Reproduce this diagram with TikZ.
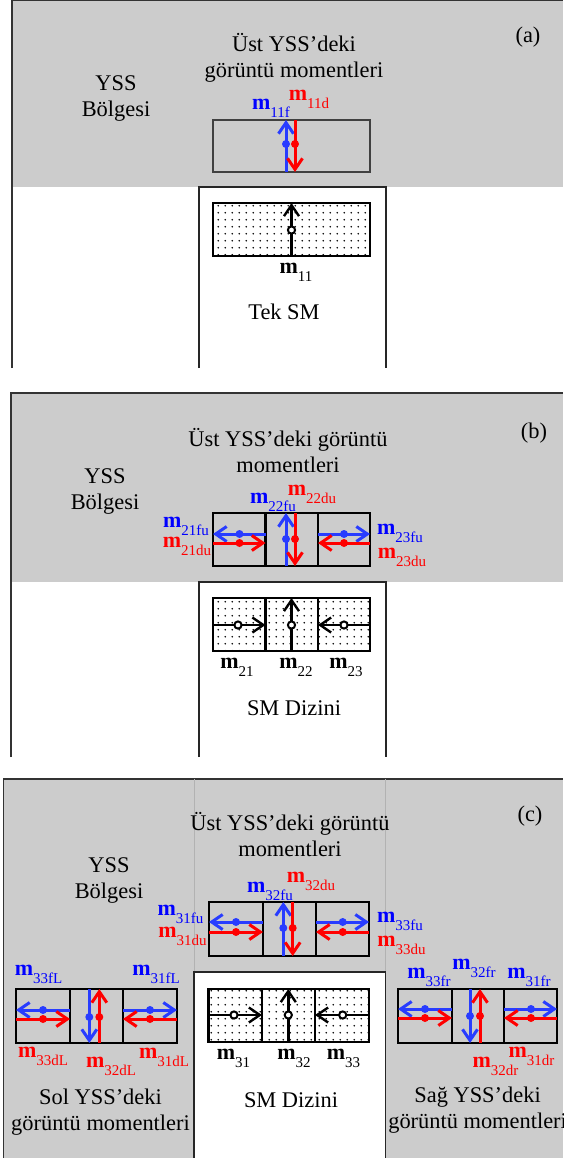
\documentclass[tikz,border=0pt]{standalone}
\usepackage{fontspec}
\setmainfont{Liberation Serif}
\usetikzlibrary{arrows.meta, patterns.meta}

\definecolor{yssgray}{gray}{0.8}
\definecolor{arrblue}{RGB}{40,60,255}
\newcommand{\mom}[1]{\textbf{m}\raisebox{-4pt}{\fontsize{7.5}{8}\selectfont #1}}
\tikzdeclarepattern{name=smdots, type=uncolored,
  bounding box={(0pt,0pt) and (3.6pt,3.6pt)}, tile size={(3.6pt,3.6pt)},
  code={\fill (1.8pt,1.8pt) circle[radius=0.5pt];}}

\begin{document}
\begin{tikzpicture}[
    x=0.5pt, y=-0.5pt,
    txt/.style={align=center, inner sep=0pt, font=\fontsize{11.2}{13}\selectfont},
    lbl/.style={inner sep=0pt, font=\fontsize{11}{12}\selectfont},
    panelline/.style={draw=black!80, line width=0.8pt},
    sepline/.style={draw=black!30, line width=0.4pt},
    smbox/.style={draw=black!85, line width=0.8pt, fill=white},
    yssbox/.style={draw=black!75, line width=1pt},
    cellbox/.style={draw=black, line width=1.4pt},
    smcellbox/.style={cellbox, pattern=smdots},
    vtip/.style={-{Straight Barb[length=5.5pt, width=7.5pt]}},
    barrow/.style={vtip, draw=arrblue, line width=1.5pt},
    rarrow/.style={vtip, draw=red, line width=1.5pt},
    karrow/.style={vtip, draw=black, line width=1.2pt},
    ring/.style={fill=white, draw=black, line width=1pt}
]
\useasboundingbox (0,0) rectangle (563,1158);
\clip (0,0) rectangle (563,1158);

% (a) tek SM
\fill[yssgray] (12,0) rectangle (563,187);
\draw[panelline] (12,368) -- (12,0.5) -- (563,0.5);
\draw[smbox] (199,368) -- (199,187) -- (386,187) -- (386,368);
\draw[yssbox] (213,120) rectangle (370,172);
\draw[smcellbox] (213,203) rectangle (370,256);
\draw[barrow] (286,172) -- (286,120);
\draw[rarrow] (295,120) -- (295,172);
\fill[arrblue] (286,144) circle[radius=2pt];
\fill[red] (295,144) circle[radius=2pt];
\draw[karrow] (291.5,256) -- (291.5,203);
\filldraw[ring] (291.5,230) circle[radius=1.8pt];

\node[txt] (ustA) at (294,58) {Üst YSS’deki\\görüntü momentleri};
\node[txt] (yssA) at (116,98) {YSS\\Bölgesi};
\node[txt] (capA) at (528,37) {(a)};
\node[txt] (tekA) at (284,312) {Tek SM};
\node[lbl, text=blue] (m11f) at (271,108) {\mom{11f}};
\node[lbl, text=red] (m11d) at (309,99) {\mom{11d}};
\node[lbl] (m11) at (296,272) {\mom{11}};

% (b) SM dizini
\fill[yssgray] (11,393) rectangle (563,582);
\draw[panelline] (11,757) -- (11,393) -- (563,393);
\draw[smbox] (199,757) -- (199,582) -- (386,582) -- (386,757);
\foreach \xa/\xb in {213/265.5, 265.5/318, 318/370} {
  \draw[cellbox] (\xa,513) rectangle (\xb,566);
  \draw[smcellbox] (\xa,598) rectangle (\xb,651);
}
\draw[barrow] (265.5,534) -- (213,534);
\draw[rarrow] (213,543) -- (265.5,543);
\draw[barrow] (286,566) -- (286,513);
\draw[rarrow] (295,513) -- (295,566);
\draw[barrow] (318,534) -- (370,534);
\draw[rarrow] (370,543) -- (318,543);
\foreach \x/\y in {239.5/534, 344/534, 286/539} \fill[arrblue] (\x,\y) circle[radius=2pt];
\foreach \x/\y in {239.5/543, 344/543, 295/539} \fill[red] (\x,\y) circle[radius=2pt];
\draw[karrow] (213,625) -- (265.5,625);
\draw[karrow] (291.5,651) -- (291.5,598);
\draw[karrow] (370,625) -- (318,625);
\foreach \x in {238, 291.5, 344} \filldraw[ring] (\x,625) circle[radius=1.8pt];

\node[txt] (ustB) at (288,451) {Üst YSS’deki görüntü\\momentleri};
\node[txt] (yssB) at (105,491) {YSS\\Bölgesi};
\node[txt] (capB) at (534,433) {(b)};
\node[txt] (dizB) at (294,708) {SM Dizini};
\node[lbl, text=blue] (m21fu) at (186,526) {\mom{21fu}};
\node[lbl, text=red] (m21du) at (187,546) {\mom{21du}};
\node[lbl, text=blue] (m22fu) at (273,502) {\mom{22fu}};
\node[lbl, text=red] (m22du) at (312,494) {\mom{22du}};
\node[lbl, text=blue] (m23fu) at (400,533) {\mom{23fu}};
\node[lbl, text=red] (m23du) at (402,557) {\mom{23du}};
\node[lbl] (m21) at (237,667) {\mom{21}};
\node[lbl] (m22) at (296,667) {\mom{22}};
\node[lbl] (m23) at (346,667) {\mom{23}};

% (c) sol, ust ve sag YSS
\fill[yssgray] (3.6,779) rectangle (563,1158);
\draw[panelline] (3.6,1158) -- (3.6,779) -- (563,779);
\draw[sepline] (194,779) -- (194,972);
\draw[sepline] (385.5,779) -- (385.5,972);
\draw[smbox] (194,1159) -- (194,972) -- (385.5,972) -- (385.5,1159);
\foreach \xa/\xb in {209/263, 263/316, 316/369} \draw[cellbox] (\xa,902) rectangle (\xb,956);
\foreach \xa/\xb in {208.5/262, 262/315, 315/369} \draw[smcellbox] (\xa,989) rectangle (\xb,1042);
\foreach \xa/\xb in {16/70, 70/123, 123/177, 398/452, 452/504, 504/557} \draw[cellbox] (\xa,989) rectangle (\xb,1043);

% ust
\draw[barrow] (263,922) -- (209,922);
\draw[rarrow] (209,932) -- (263,932);
\draw[barrow] (283.3,956) -- (283.3,902);
\draw[rarrow] (292.7,902) -- (292.7,956);
\draw[barrow] (316,922) -- (369,922);
\draw[rarrow] (369,932) -- (316,932);
\foreach \x/\y in {236/922, 342.7/922, 283.3/928} \fill[arrblue] (\x,\y) circle[radius=2pt];
\foreach \x/\y in {236/932, 342.7/932, 292.7/928} \fill[red] (\x,\y) circle[radius=2pt];
% sol
\draw[barrow] (70,1010) -- (16,1010);
\draw[rarrow] (16,1019) -- (70,1019);
\draw[barrow] (89.3,989) -- (89.3,1043);
\draw[rarrow] (99.3,1043) -- (99.3,989);
\draw[barrow] (123,1010) -- (177,1010);
\draw[rarrow] (177,1019) -- (123,1019);
\foreach \x/\y in {43/1010, 150/1010, 89.3/1017} \fill[arrblue] (\x,\y) circle[radius=2pt];
\foreach \x/\y in {43/1019, 150/1019, 99.3/1017} \fill[red] (\x,\y) circle[radius=2pt];
% sag
\draw[barrow] (452,1009) -- (398,1009);
\draw[rarrow] (398,1018) -- (452,1018);
\draw[barrow] (470,989) -- (470,1043);
\draw[rarrow] (480,1043) -- (480,989);
\draw[barrow] (504,1009) -- (557,1009);
\draw[rarrow] (557,1018) -- (504,1018);
\foreach \x/\y in {425/1009, 531/1009, 470/1016} \fill[arrblue] (\x,\y) circle[radius=2pt];
\foreach \x/\y in {425/1018, 531/1018, 480/1016} \fill[red] (\x,\y) circle[radius=2pt];
% SM dizini
\draw[karrow] (208.5,1015) -- (262,1015);
\draw[karrow] (288.3,1042) -- (288.3,989);
\draw[karrow] (369,1015) -- (315,1015);
\foreach \x in {234, 288.3, 342.7} \filldraw[ring] (\x,1015) circle[radius=1.8pt];

\node[txt] (ustC) at (290,835) {Üst YSS’deki görüntü\\momentleri};
\node[txt] (yssC) at (109,880) {YSS\\Bölgesi};
\node[txt] (capC) at (530,816) {(c)};
\node[txt] (dizC) at (291,1100) {SM Dizini};
\node[txt] (solC) at (100.5,1112) {Sol YSS’deki\\görüntü momentleri};
\node[txt] (sagC) at (477.6,1110) {Sağ YSS’deki\\görüntü momentleri};

\node[lbl, text=blue] (m31fu) at (180.5,914) {\mom{31fu}};
\node[lbl, text=red] (m31du) at (182.5,936) {\mom{31du}};
\node[lbl, text=blue] (m32fu) at (270,891) {\mom{32fu}};
\node[lbl, text=red] (m32du) at (311,881) {\mom{32du}};
\node[lbl, text=blue] (m33fu) at (400,921) {\mom{33fu}};
\node[lbl, text=red] (m33du) at (401.5,945) {\mom{33du}};
\node[lbl] (m31) at (233.5,1058) {\mom{31}};
\node[lbl] (m32) at (294,1058) {\mom{32}};
\node[lbl] (m33) at (343.5,1058) {\mom{33}};

\node[lbl, text=blue] (m33fL) at (38.5,974) {\mom{33fL}};
\node[lbl, text=blue] (m31fL) at (156,974) {\mom{31fL}};
\node[lbl, text=red] (m33dL) at (43,1056) {\mom{33dL}};
\node[lbl, text=red] (m32dL) at (111,1066) {\mom{32dL}};
\node[lbl, text=red] (m31dL) at (164,1057) {\mom{31dL}};

\node[lbl, text=blue] (m33fr) at (429,977) {\mom{33fr}};
\node[lbl, text=blue] (m32fr) at (474,968) {\mom{32fr}};
\node[lbl, text=blue] (m31fr) at (529,977) {\mom{31fr}};
\node[lbl, text=red] (m32dr) at (495.5,1066) {\mom{32dr}};
\node[lbl, text=red] (m31dr) at (531.5,1056) {\mom{31dr}};
\end{tikzpicture}
\end{document}
